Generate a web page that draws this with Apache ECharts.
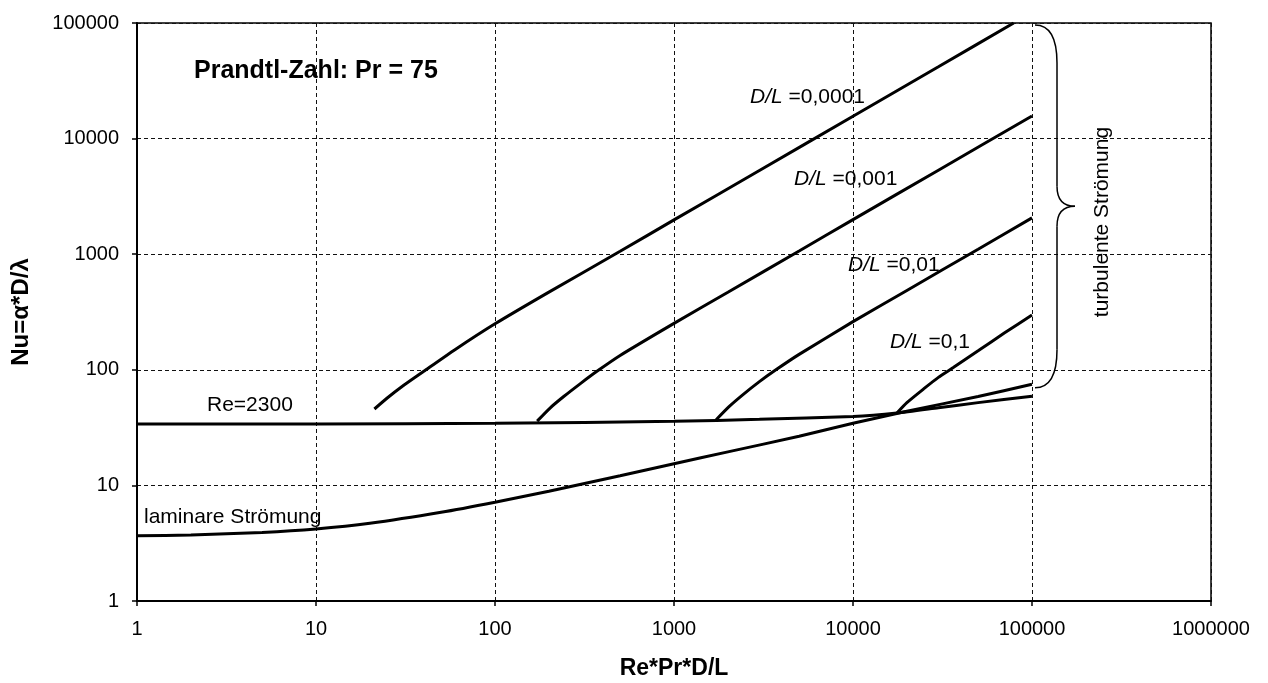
<!DOCTYPE html>
<html>
<head>
<meta charset="utf-8">
<title>Nu über Re*Pr*D/L</title>
<script src="https://cdn.jsdelivr.net/npm/echarts@6/dist/echarts.min.js"></script>
<style>
  html, body { margin: 0; padding: 0; background: #fff; }
  #chart { width: 1268px; height: 683px; }
</style>
</head>
<body>
<div id="chart"></div>
<script>
// Werte: x = Re*Pr*D/L, y = Nu
const xTickLabels = ['1', '10', '100', '1000', '10000', '100000', '1000000'];
const yTickLabels = ['1', '10', '100', '1000', '10000', '100000'];

// laminare Strömung
const lamX  = [1, 2, 5, 10, 20, 50, 100, 200, 500, 1000, 2000, 5000, 10000, 20000, 50000, 100000];
const lamNu = [3.66, 3.72, 3.92, 4.2, 4.7, 5.85, 7.15, 8.9, 12.1, 15.4, 19.5, 26.6, 34.5, 43.8, 58.8, 75];

// Re = 2300
const reX  = [1, 10, 100, 1000, 3000, 10000, 17600, 30000, 50000, 100000];
const reNu = [34, 34, 34.4, 35.8, 37.3, 39.5, 42.3, 47, 52, 59];

// turbulente Strömung, D/L = 0,0001 / 0,001 / 0,01 / 0,1
const t4X  = [21.2, 25, 30, 40, 60, 100, 200, 500, 1000, 3000, 10000, 30000, 79000];
const t4Nu = [45.8, 57, 71, 97, 150, 250, 470, 1060, 1980, 5300, 15600, 41800, 100000];

const t3X  = [172, 203, 243, 300, 371, 500, 1000, 2000, 5000, 10000, 30000, 100000];
const t3Nu = [36, 46.7, 59, 76, 97, 133, 252, 469, 1067, 1990, 5330, 15700];

const t2X  = [1720, 2030, 2430, 3000, 3710, 5000, 10000, 20000, 50000, 100000];
const t2Nu = [37, 48, 61, 79, 100, 136, 261, 486, 1105, 2060];

const t1X  = [17600, 20000, 25000, 30000, 36500, 50000, 70000, 100000];
const t1Nu = [42.3, 52, 69, 86, 105, 146, 208, 298];

const FONT = 'Liberation Sans, Arial, Helvetica, sans-serif';

const pairs = (xs, ys) => xs.map((x, i) => [x, ys[i]]);

const curve = (name, xs, ys) => ({
  name,
  type: 'line',
  data: pairs(xs, ys),
  showSymbol: false,
  symbol: 'none',
  smooth: 0.2,
  silent: true,
  lineStyle: { color: '#000', width: 3 },
  z: 5
});

const tickFmt = list => v => {
  const s = String(Math.round(v));
  return list.includes(s) ? s : '';
};

const axisCommon = {
  type: 'log',
  logBase: 10,
  nameLocation: 'middle',
  nameTextStyle: { color: '#000', fontWeight: 'bold', fontFamily: FONT },
  axisLine: { show: true, lineStyle: { color: '#000', width: 2 } },
  axisTick: { show: true, inside: false, length: 5, lineStyle: { color: '#000', width: 1.5 } },
  splitLine: { show: true, lineStyle: { color: '#111', width: 1, type: [4, 3] } },
  minorTick: { show: false },
  minorSplitLine: { show: false }
};

const chart = echarts.init(document.getElementById('chart'));

chart.setOption({
  animation: false,
  backgroundColor: '#fff',
  grid: {
    left: 137, top: 23, width: 1074, height: 578,
    show: true, borderColor: '#000', borderWidth: 1.5,
    containLabel: false, outerBoundsMode: 'none'
  },
  xAxis: Object.assign({}, axisCommon, {
    min: 1, max: 1000000,
    name: 'Re*Pr*D/L',
    nameGap: 56,
    nameTextStyle: Object.assign({}, axisCommon.nameTextStyle, { fontSize: 23 }),
    axisLabel: { margin: 18, fontSize: 20, color: '#000', fontFamily: FONT, formatter: tickFmt(xTickLabels) }
  }),
  yAxis: Object.assign({}, axisCommon, {
    min: 1, max: 100000,
    name: 'Nu=α*D/λ',
    nameGap: 104,
    nameTextStyle: Object.assign({}, axisCommon.nameTextStyle, { fontSize: 24 }),
    axisLabel: { margin: 18, fontSize: 20, color: '#000', fontFamily: FONT, formatter: tickFmt(yTickLabels) }
  }),
  series: [
    curve('laminare Strömung', lamX, lamNu),
    curve('Re=2300', reX, reNu),
    curve('D/L=0,0001', t4X, t4Nu),
    curve('D/L=0,001', t3X, t3Nu),
    curve('D/L=0,01', t2X, t2Nu),
    curve('D/L=0,1', t1X, t1Nu)
  ]
});

// Beschriftungen und geschweifte Klammer
const txt = (text, x, y, extra, rot) => ({
  type: 'text', x, y, z: 10, silent: true, rotation: rot || 0,
  style: Object.assign({
    text, fill: '#000', fontSize: 21, fontFamily: FONT,
    align: 'left', verticalAlign: 'middle',
    textAlign: 'left', textVerticalAlign: 'middle'
  }, extra || {})
});

const dl = (value, x, y) => txt('{i|D/L} =' + value, x, y, {
  rich: { i: { fontStyle: 'italic', fontSize: 21, fontFamily: FONT, fill: '#000' } }
});

const braceStyle = { stroke: '#000', lineWidth: 1.5, fill: null };
const curveEl = (x1, y1, cx, cy, x2, y2) => ({
  type: 'bezierCurve', silent: true, z: 10,
  shape: { x1, y1, x2, y2, cpx1: cx, cpy1: cy },
  style: braceStyle
});
const lineEl = (x1, y1, x2, y2) => ({
  type: 'line', silent: true, z: 10,
  shape: { x1, y1, x2, y2 },
  style: braceStyle
});

// Klammer an den Achsen ausgerichtet: von Nu=100000 bis Nu=70 bei x=100000
const pTop = chart.convertToPixel({ gridIndex: 0 }, [100000, 100000]);
const pBot = chart.convertToPixel({ gridIndex: 0 }, [100000, 70]);
const bx0 = pTop[0] + 3, bx1 = bx0 + 22, bx2 = bx0 + 40;
const byt = pTop[1] + 2, byb = pBot[1], bym = byt + (byb - byt) * 0.5;

chart.setOption({
  graphic: [
    txt('Prandtl-Zahl: Pr = 75', 194, 71, { fontSize: 25, fontWeight: 'bold' }),
    txt('Re=2300', 207, 405),
    txt('laminare Strömung', 144, 517),
    dl('0,0001', 750, 97),
    dl('0,001', 794, 179),
    dl('0,01', 848, 265),
    dl('0,1', 890, 342),
    txt('turbulente Strömung', 1102, 222, { align: 'center', textAlign: 'center' }, Math.PI / 2),
    curveEl(bx0, byt, bx1, byt, bx1, byt + 38),
    lineEl(bx1, byt + 38, bx1, bym - 20),
    curveEl(bx1, bym - 20, bx1, bym, bx2, bym),
    curveEl(bx2, bym, bx1, bym, bx1, bym + 20),
    lineEl(bx1, bym + 20, bx1, byb - 38),
    curveEl(bx1, byb - 38, bx1, byb, bx0, byb)
  ]
});
</script>
</body>
</html>
